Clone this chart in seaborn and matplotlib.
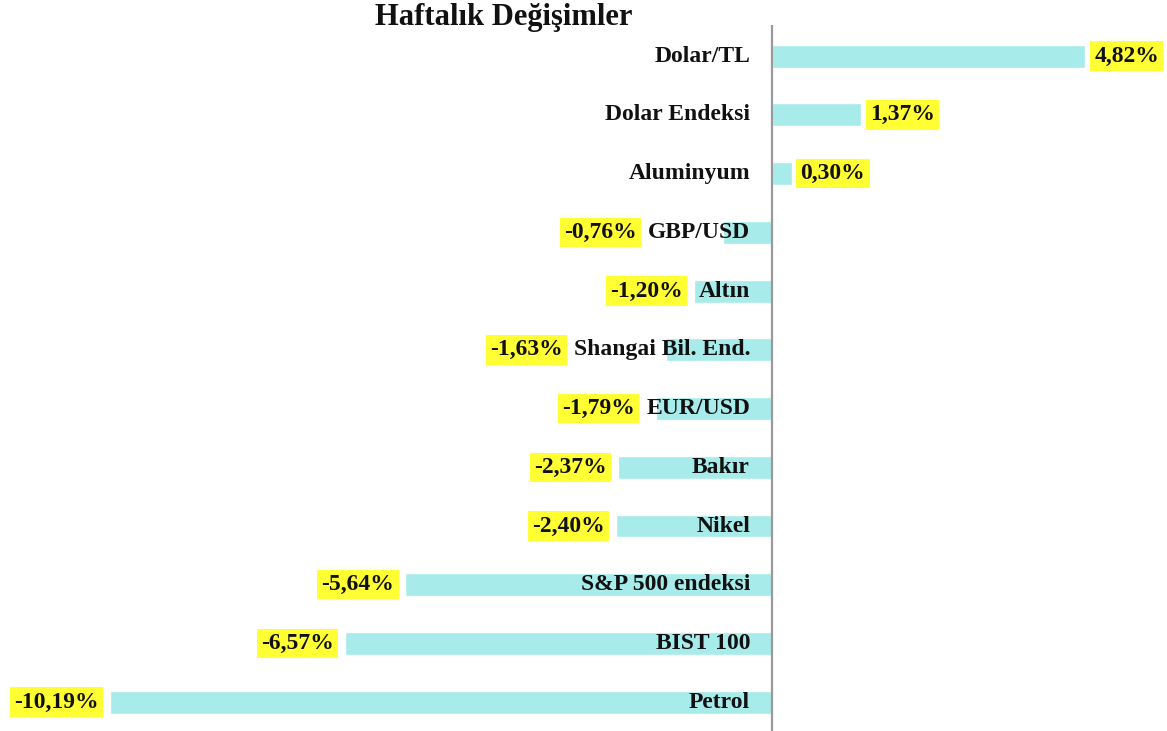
import matplotlib
matplotlib.use("Agg")
import matplotlib.pyplot as plt
import seaborn as sns
import pandas as pd

categories = ["Dolar/TL", "Dolar Endeksi", "Aluminyum", "GBP/USD", "Altın",
              "Shangai Bil. End.", "EUR/USD", "Bakır", "Nikel",
              "S&P 500 endeksi", "BIST 100", "Petrol"]
values = [4.82, 1.37, 0.30, -0.76, -1.20, -1.63, -1.79, -2.37, -2.40, -5.64, -6.57, -10.19]
value_labels = ["4,82%", "1,37%", "0,30%", "-0,76%", "-1,20%", "-1,63%", "-1,79%",
                "-2,37%", "-2,40%", "-5,64%", "-6,57%", "-10,19%"]
title = "Haftalık Değişimler"

sns.set_theme(style="white")
plt.rcParams["font.family"] = ["Liberation Serif", "DejaVu Serif"]

W, H, DPI = 1167, 731, 100
fig = plt.figure(figsize=(W / DPI, H / DPI), dpi=DPI)
ax = fig.add_axes([0, 0, 1, (H - 25) / H])

df = pd.DataFrame({"cat": categories, "val": values})
sns.barplot(data=df, y="cat", x="val", orient="h", color="#A7EBEA",
            saturation=1, width=0.39, ax=ax, zorder=2)

px_per_unit = 65.0
zero_px = 772
ax.set_xlim(-zero_px / px_per_unit, (W - zero_px) / px_per_unit)
ax.set_ylim(11.49, -0.53)
for s in ax.spines.values():
    s.set_visible(False)
ax.set_xticks([])
ax.set_yticks([])
ax.set_xlabel("")
ax.set_ylabel("")
ax.axvline(0, color="#9a9a9a", lw=1.6, zorder=3)

fs = 17
gap_cat = 22 / px_per_unit
fig.canvas.draw()
renderer = fig.canvas.get_renderer()
inv = ax.transData.inverted()
for i, (c, v, lab) in enumerate(zip(categories, values, value_labels)):
    t = ax.text(-gap_cat, i, c, ha="right", va="center", fontsize=fs,
                fontweight="bold", color="#111111", zorder=4)
    bb = t.get_window_extent(renderer)
    left_data = inv.transform((bb.x0, 0))[0]
    bbox = dict(boxstyle="square,pad=0.18", fc="#FFFF33", ec="none")
    if v >= 0:
        ax.text(v + 9 / px_per_unit, i, lab, ha="left", va="center",
                fontsize=fs, fontweight="bold", color="#111111", bbox=bbox, zorder=5)
    else:
        xr = min(v, left_data) - 11 / px_per_unit
        ax.text(xr, i, lab, ha="right", va="center", fontsize=fs,
                fontweight="bold", color="#111111", bbox=bbox, zorder=5)

fig.text(504 / W, 1 - 18 / H, title, ha="center", va="center",
         fontsize=22, fontweight="bold", color="#111111")

fig.savefig("out.png", dpi=DPI)
